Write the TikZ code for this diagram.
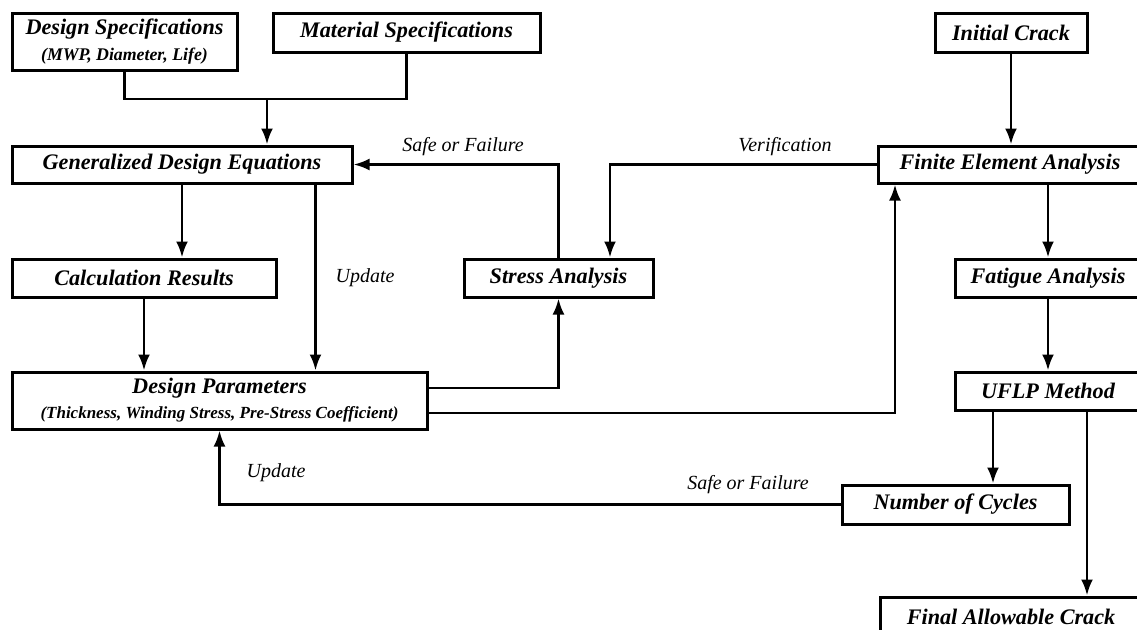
\documentclass[tikz,border=0pt]{standalone}
\usepackage{fontspec}
\setmainfont{Liberation Serif}
\usepackage{tikz}
\usetikzlibrary{arrows.meta}

\begin{document}
\begin{tikzpicture}[x=0.5pt,y=-0.5pt,
        blk/.style={draw, line width=1.5pt, inner sep=0pt, align=center,
            font=\fontsize{11.1}{13}\selectfont\bfseries\itshape},
        arr/.style={line width=1.35pt, -{Latex[length=8pt,width=6pt]}},
        ln/.style={line width=1.35pt},
        lbl/.style={font=\fontsize{10}{12}\selectfont\itshape}]
        \useasboundingbox (0,0) rectangle (1137,629);
        % Blocks:
        \node[blk, minimum width=112.5pt, minimum height=28.5pt] (ds) at (124.5,41.5)
            {Design Specifications\\[0pt]{\fontsize{8.9}{13}\selectfont(MWP, Diameter, Life)}};
        \node[blk, minimum width=133.5pt, minimum height=19.5pt] (ms) at (406.5,32.5) {Material Specifications};
        \node[blk, minimum width=170pt, minimum height=18.5pt] (gde) at (182,164.5) {Generalized Design Equations};
        \node[blk, minimum width=132pt, minimum height=19pt] (cr) at (144,278) {Calculation Results};
        \node[blk, minimum width=207.5pt, minimum height=28.5pt] (dp) at (219.5,400.5)
            {Design Parameters\\[-0.5pt]{\fontsize{8.5}{13}\selectfont(Thickness, Winding Stress, Pre-Stress Coefficient)}};
        \node[blk, minimum width=94.5pt, minimum height=19pt] (sa) at (558.5,278) {Stress Analysis};
        \node[blk, minimum width=76pt, minimum height=19.5pt] (ic) at (1011,32.5) {Initial Crack};
        \node[blk, minimum width=132pt, minimum height=18.5pt] (fea) at (1010,164.5) {Finite Element Analysis};
        \node[blk, minimum width=93pt, minimum height=19pt] (fa) at (1048,278) {Fatigue Analysis};
        \node[blk, minimum width=93pt, minimum height=19pt] (uflp) at (1048,391) {UFLP Method};
        \node[blk, minimum width=113.5pt, minimum height=19.5pt] (nc) at (955.5,504.5) {Number of Cycles};
        \node[blk, minimum width=131pt, minimum height=19.5pt] (fac) at (1011,616.5) {Final Allowable Crack};

        % Labels:
        \node[lbl] (upd1) at (365,278) {Update};
        \node[lbl] (sf1) at (463,147) {Safe or Failure};
        \node[lbl] (ver1) at (785,147) {Verification};
        \node[lbl] (upd2) at (276,473) {Update};
        \node[lbl] (sf2) at (748,485) {Safe or Failure};

        % Connectors:
        \coordinate (jn) at (267,99);
        \draw[ln] (ds.south) |- (jn) -| (ms.south);
        \draw[arr] (jn) -- (jn |- gde.north);
        \draw[arr] (gde.south) -- (gde.south |- cr.north);
        \coordinate (upd) at ([xshift=-19pt]gde.south east);
        \draw[arr] (upd) -- (upd |- dp.north);
        \draw[arr] (cr.south) -- (cr.south |- dp.north);
        \draw[arr] (sa.north) |- (gde.east);
        \coordinate (ver) at ([xshift=25.75pt]sa.north);
        \draw[arr] (fea.west) -| (ver);
        \coordinate (dpA) at ([yshift=6.25pt]dp.east);
        \coordinate (dpB) at ([yshift=-6.25pt]dp.east);
        \draw[arr] (dpA) -| (sa.south);
        \coordinate (feain) at ([xshift=-57.5pt]fea.south);
        \draw[arr] (dpB) -| (feain);
        \draw[arr] (ic.south) -- (ic.south |- fea.north);
        \draw[arr] (fea.south -| fa.north) -- (fa.north);
        \draw[arr] (fa.south) -- (uflp.north);
        \coordinate (ufA) at ([xshift=-27.5pt]uflp.south);
        \coordinate (ufB) at ([xshift=19.5pt]uflp.south);
        \draw[arr] (ufA) -- (ufA |- nc.north);
        \draw[arr] (ufB) -- (ufB |- fac.north);
        \draw[arr] (nc.west) -| (dp.south);
\end{tikzpicture}
\end{document}
